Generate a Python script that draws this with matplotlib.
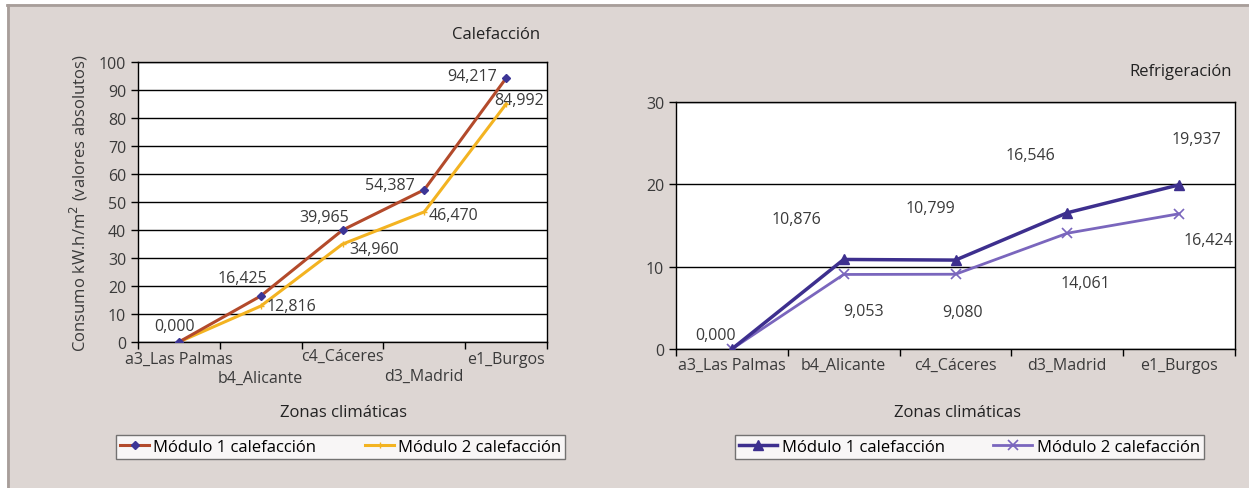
import matplotlib.pyplot as plt
from matplotlib.patches import Rectangle
from matplotlib.lines import Line2D

plt.rcParams['font.family'] = ['Open Sans', 'DejaVu Sans']

zonas = ['a3_Las Palmas', 'b4_Alicante', 'c4_Cáceres', 'd3_Madrid', 'e1_Burgos']
cal_mod1 = [0.000, 16.425, 39.965, 54.387, 94.217]
cal_mod2 = [0.000, 12.816, 34.960, 46.470, 84.992]
ref_mod1 = [0.000, 10.876, 10.799, 16.546, 19.937]
ref_mod2 = [0.000, 9.053, 9.080, 14.061, 16.424]

fondo = '#ddd6d3'
gris_txt = '#3a3a3a'

fig = plt.figure(figsize=(12.49, 4.89), dpi=100)
fig.patch.set_facecolor('white')
W, H = 1249, 489

# fondo del panel + borde solo arriba e izquierda
fig.patches.append(Rectangle((7 / W, 0), 1, 1 - 5 / H, transform=fig.transFigure,
                             facecolor=fondo, edgecolor='none', zorder=-10))
fig.add_artist(Line2D([7 / W, 1], [1 - 5.5 / H, 1 - 5.5 / H], transform=fig.transFigure,
                      color='#a89e9a', linewidth=2))
fig.add_artist(Line2D([7.5 / W, 7.5 / W], [0, 1 - 5.5 / H], transform=fig.transFigure,
                      color='#a89e9a', linewidth=2))


def px(v):
    # pixeles -> puntos
    return v * 0.72


def ejes(x0, y0, x1, y1):
    return fig.add_axes([x0 / W, 1 - y1 / H, (x1 - x0) / W, (y1 - y0) / H])


def estilo(ax, ymax, paso):
    ax.set_xlim(-0.5, 4.5)
    ax.set_ylim(0, ymax)
    ax.set_yticks(range(0, ymax + 1, paso))
    ax.set_xticks([i - 0.5 for i in range(6)])
    ax.set_xticklabels([])
    ax.tick_params(axis='both', direction='out', length=5, width=1, color='black',
                   labelsize=11.5, labelcolor=gris_txt)
    ax.grid(axis='y', color='black', linewidth=1)
    ax.set_axisbelow(True)
    for s in ax.spines.values():
        s.set_color('black')
        s.set_linewidth(1)


def etiquetas(ax, valores, offsets):
    for i, (v, off) in enumerate(zip(valores, offsets)):
        if off is None:
            continue
        ax.annotate(f'{v:.3f}'.replace('.', ','), xy=(i, v), xytext=(px(off[0]), px(off[1])),
                    textcoords='offset points', ha='center', va='center',
                    fontsize=11.5, color=gris_txt)


# ---------------- Calefacción ----------------
ax1 = ejes(138, 63, 547, 343)
estilo(ax1, 100, 10)
ax1.plot(range(5), cal_mod1, color='#b34a2b', linewidth=2.2, marker='D', markersize=4.5,
         markerfacecolor='#3c3596', markeredgecolor='#3c3596', zorder=3)
ax1.plot(range(5), cal_mod2, color='#f3b321', linewidth=2.2, marker='+', markersize=4,
         markeredgecolor='#f3b321', zorder=2)
etiquetas(ax1, cal_mod1, [(-4, 16), (-18, 18), (-18, 13), (-34, 5), (-34, 2)])
etiquetas(ax1, cal_mod2, [None, (31, 0), (32, -5), (29, -3), (13, 4)])
ax1.set_ylabel('Consumo kW.h/m$^2$ (valores absolutos)', fontsize=12, color=gris_txt, labelpad=6)
for i, z in enumerate(zonas):
    dy = -17 if i % 2 == 0 else -36
    if i == 2:
        dy = -14
    if i == 3:
        dy = -34
    ax1.annotate(z, xy=(i, 0), xycoords=('data', 'axes fraction'), xytext=(0, px(dy)),
                 textcoords='offset points', ha='center', va='center', fontsize=11.5,
                 color=gris_txt, annotation_clip=False)
fig.text(540 / W, 1 - 35 / H, 'Calefacción', ha='right', va='center', fontsize=12, color='#222222')
fig.text(344 / W, 1 - 413 / H, 'Zonas climáticas', ha='center', va='center', fontsize=12, color='#222222')

h1 = [Line2D([], [], color='#b34a2b', linewidth=2.2, marker='D', markersize=4.5,
             markerfacecolor='#3c3596', markeredgecolor='#3c3596'),
      Line2D([], [], color='#f3b321', linewidth=2.2, marker='+', markersize=4,
             markeredgecolor='#f3b321')]
leg1 = fig.legend(h1, ['Módulo 1 calefacción', 'Módulo 2 calefacción'], ncol=2,
                  bbox_to_anchor=(116 / W, 1 - 460 / H, (565 - 116) / W, 27 / H), loc='lower left',
                  mode='expand', fontsize=12, frameon=True, fancybox=False, borderpad=0.25,
                  handlelength=1.75, handletextpad=0.2, borderaxespad=0)
leg1.get_frame().set_edgecolor('#555555')
leg1.get_frame().set_linewidth(1)

# ---------------- Refrigeración ----------------
ax2 = ejes(676, 103, 1235, 350)
estilo(ax2, 30, 10)
ax2.plot(range(5), ref_mod1, color='#3d2f8e', linewidth=2.5, marker='^', markersize=7, zorder=3)
ax2.plot(range(5), ref_mod2, color='#7a66bd', linewidth=2, marker='x', markersize=7,
         markeredgewidth=1.2, zorder=2)
etiquetas(ax2, ref_mod1, [(-16, 14), (-47, 40), (-25, 52), (-37, 58), (17, 46)])
etiquetas(ax2, ref_mod2, [None, (20, -37), (7, -38), (18, -50), (29, -26)])
for i, z in enumerate(zonas):
    ax2.annotate(z, xy=(i, 0), xycoords=('data', 'axes fraction'), xytext=(0, px(-16)),
                 textcoords='offset points', ha='center', va='center', fontsize=11.5,
                 color=gris_txt, annotation_clip=False)
fig.text(1232 / W, 1 - 72 / H, 'Refrigeración', ha='right', va='center', fontsize=12, color='#222222')
fig.text(957 / W, 1 - 413 / H, 'Zonas climáticas', ha='center', va='center', fontsize=12, color='#222222')

h2 = [Line2D([], [], color='#3d2f8e', linewidth=2.5, marker='^', markersize=7),
      Line2D([], [], color='#7a66bd', linewidth=2, marker='x', markersize=7, markeredgewidth=1.2)]
leg2 = fig.legend(h2, ['Módulo 1 calefacción', 'Módulo 2 calefacción'], ncol=2,
                  bbox_to_anchor=(735 / W, 1 - 460 / H, (1204 - 735) / W, 27 / H), loc='lower left',
                  mode='expand', fontsize=12, frameon=True, fancybox=False, borderpad=0.25,
                  handlelength=2.3, handletextpad=0.3, borderaxespad=0)
leg2.get_frame().set_edgecolor('#555555')
leg2.get_frame().set_linewidth(1)

fig.savefig('out.png', dpi=100, facecolor=fig.get_facecolor())
